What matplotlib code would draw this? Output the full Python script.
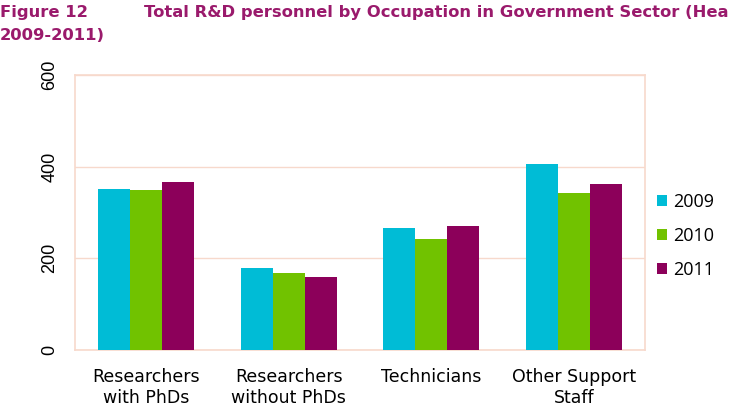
import numpy as np
import matplotlib.pyplot as plt

categories = ["Researchers\nwith PhDs", "Researchers\nwithout PhDs", "Technicians", "Other Support\nStaff"]
years = ["2009", "2010", "2011"]
v2009 = [351, 180, 267, 406]
v2010 = [349, 167, 242, 343]
v2011 = [367, 159, 271, 362]
yticks = [0, 200, 400, 600]

colors = ["#00BCD6", "#71C200", "#8C005A"]
grid_col = "#F7D9CC"
title_col = "#9A1A6C"

fig = plt.figure(figsize=(7.33, 4.16), dpi=100)
ax = fig.add_axes([75/733, 1 - 350/416, 570/733, 275/416])

x = np.arange(len(categories))
w = 0.225
for i, (vals, yr) in enumerate(zip([v2009, v2010, v2011], years)):
    ax.bar(x + (i - 1) * w, vals, width=w, color=colors[i], label=yr, zorder=3)

ax.set_xlim(-0.5, len(categories) - 0.5)
ax.set_ylim(0, 600)
ax.set_yticks(yticks)
ax.set_yticklabels([str(t) for t in yticks], rotation=90, va="center",
                   fontsize=13, family="Liberation Sans")
ax.set_xticks(x)
ax.set_xticklabels(categories, fontsize=12.5, family="DejaVu Sans", linespacing=1.2)
ax.tick_params(axis="y", length=0, pad=12)
ax.tick_params(axis="x", length=0, pad=13)
ax.grid(axis="y", color=grid_col, linewidth=1, zorder=0)
for s in ax.spines.values():
    s.set_color(grid_col)
    s.set_linewidth(1.2)

leg = ax.legend(loc="center left", frameon=False,
                handlelength=0.55, handleheight=0.55, handletextpad=0.35,
                labelspacing=0.9, borderpad=0, borderaxespad=0,
                prop={"family": "Open Sans", "size": 13})
leg.set_bbox_to_anchor((1.021, 0.4145), transform=ax.transAxes)

fig.text(0.0, 1 - 12/416, "Figure 12", color=title_col, fontsize=11.8,
         fontweight="bold", va="center", family="DejaVu Sans")
fig.text(144/733, 1 - 12/416, "Total R&D personnel by Occupation in Government Sector (Hea",
         color=title_col, fontsize=11.8, fontweight="bold", va="center", family="DejaVu Sans")
fig.text(0.0, 1 - 36/416, "2009-2011)", color=title_col, fontsize=11.8,
         fontweight="bold", va="center", family="DejaVu Sans")

fig.savefig("out.png", dpi=100)
